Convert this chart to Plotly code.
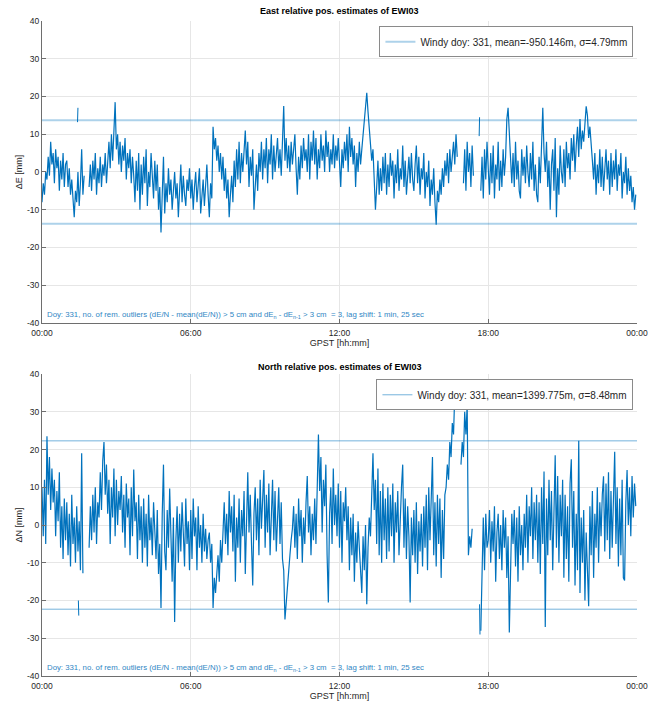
import pandas as pd
import plotly.graph_objects as go

# ---------------- data (3-min samples, mm) ----------------
east_mm = [
    -8, -3, -6, 0, -2, 4, -1, 8, 2, 5, -3, 6, 1, 4, -5, 3, -2, 5, -4, 2,                 # 00h
    3, -4, 1, -6, -2, -9, -12, -5, -8, 0, -9, -3, 6, -6, -1, None, None, None, -4, 2,     # 01h
    -5, 3, -2, 5, -6, 1, -3, 4, -4, 2, -1, 5, -3, 4, 8, 1, 10, 3, 9, 18.5,               # 02h
    6, 10, 2, 8, 0, 7, 3, 9, -2, 5, 1, 6, -3, 4, -1, -8, 3, -5, 5, -10,                  # 03h
    2, -6, 4, -3, 6, -9, 0, -4, 5, -2, -7, 3, -5, 2, -10, -4, -16, -6, 4, -11,           # 04h
    -3, -8, 1, -6, -2, -10, -4, 0, -7, -3, -12, -5, 2, -8, -1, -6, -9, -2, -5, 1,        # 05h
    -7, -2, -10, -4, 0, -8, -3, 1, -11, -5, -2, -9, -4, 2, -6, -12, -3, -7, 12, 6,       # 06h
    9, 3, 7, 0, 5, -2, 4, -5, 1, -7, -2, -12, -6, -1, -8, 3, -4, 6, -2, 8,               # 07h
    -3, 5, 0, 7, 11, 2, 8, -4, 4, -1, 6, -10, -3, 2, -5, 5, 0, 8, -2, 6,                 # 08h
    1, 9, -3, 6, 2, 10, -2, 7, 0, 4, 9, 1, 6, -1, 8, 17.5, 3, 9, 1, 7,                   # 09h
    0, 8, 2, 6, 10, 1, -6, 4, -2, 7, 1, 9, 3, 6, 0, 10, -2, 8, 3, 11,                    # 10h
    2, 9, -2, 6, 1, 10, 3, 7, 0, 11, 4, 8, 0, 6, 2, 10, 1, 7, 3, 9,                      # 11h
    2, -4, 6, 1, 8, 3, 10, 0, 12, 4, 9, 2, 7, -4, 5, 0, 8, 2, 6, 10,                     # 12h
    14, 18, 21, 16, 12, 7, 3, 6, -2, -10, -4, 3, -6, 1, -5, 4, -3, 5, -6, 2,             # 13h
    -4, 5, -1, 3, -7, 2, -3, 6, -5, 1, -2, 7, -4, 3, -6, 0, 4, -3, 5, -2,                # 14h
    -5, 2, 7, -3, 4, -6, 1, -2, 5, -7, 0, -4, 3, -9, -2, -6, 1, -8, -14, -5,             # 15h
    -8, -2, -6, 1, -4, 3, -1, 5, -3, 6, 0, 4, 8, 2, 10, 4, None, None, None, None,       # 16h
    -3, 6, -5, 8, 0, 5, -4, 7, -1, None, None, None, None, None, -5, 4, -7, 6, -2, 8,    # 17h
    1, -6, 5, -3, 7, -7, 2, -2, 8, -5, 3, -4, 6, -1, 4, 14, 17, 9, 3, -3,                # 18h
    5, -4, 8, -2, 3, -5, -7, 6, -1, 4, -3, 7, 0, -4, 5, -2, 8, -5, 2, -6,                # 19h
    -8, 4, -3, 6, 17, 5, 0, 8, -4, 3, -10, 2, 6, -5, 9, -12, 1, -6, 7, 0,                # 20h
    -3, 6, -4, 8, 1, 5, -2, 9, 3, 10, 0, 7, 12, 4, 14, 6, 11, 8, 13, 17.4,               # 21h
    15, 9, 12, 6, 3, -2, 5, -6, 2, -3, 6, -4, 4, -5, 1, 6, -2, 3, -6, 5,                 # 22h
    -4, 3, -2, 6, -5, 2, -1, 5, -7, 0, -3, 4, -6, 1, -5, -1, -8, -4, -10, -6,            # 23h
]
north_mm = [
    10, -3, 12, -5, 23.5, 8, 18, 4, 15, 6, 12, -3, 9, 1, 14, -6, 5, -9, 7, -4,           # 00h
    6, -8, 3, -11, 8, -5, 2, -10, 5, -7, 1, -12, 19, -12.8, None, None, None, None, -6, 5,  # 01h
    -4, 8, -2, 10, -5, 6, 2, 14, 4, 17, 22, 8, 16, 3, 12, -5, 10, 2, 15, -3,             # 02h
    12, 0, 9, 4, 13, -2, 8, -6, 11, 2, 7, -8, 10, -3, 14.7, 1, 6, -9, 8, -4,             # 03h
    5, -10, 7, -6, 3, -11, 8, -4, 2, -8, 6, -2, -9, 4, -13, -5, -22, 3, 16, -7,          # 04h
    -12, 4, -6, 9.7, -3, -15, 2, -25.7, -4, 5, -10, 3, -7, 6, -2, -11, 7, -5, 1, -12,    # 05h
    4, -9, 7, -3, 2, -12, 5, -6, 0, -10, 3, -7, -1, -9, -4, -2, -10, -5, -22, -14,       # 06h
    -18, -12, -8, -15, -4, -10, 0, 6, -5, 3, -8, 9, -2, 5, -7, 8, -15, 2, -6, 7,         # 07h
    -10, 4, -3, 9, -13, 6, 14, -2, 8, -5, -16, 3, 10, -4, 7, -8, 12, -1, 5, 14.6,        # 08h
    -6, 8, -2, 11, -8, 5, 12, -4, 9, -7, 3, 10, -5, 6, -9, -12, -25, -20, -16, -11,      # 09h
    -8, -4, -1, 5, -6, 3, -9, 7, -3, 4, -10, 2, -5, 6, 13, -2, 5, -8, 3, -4,             # 10h
    7, -5, 14, 24, 9, 18, -2, 12, 5, 16, -8, -20.5, 3, 10, -5, 15, 0, 8, -3, 11,         # 11h
    -6, 9, -10, 6, 1, 10, -4, 5, -12, 2, -8, 3, -15, -2, -10, 1, -6, -13, -18, -3,       # 12h
    -12, 0, -21, -6, 2, -3, 10, 19, 4, 12, -5, 15, -8, 9, -10, 11, -4, 7, -9, 10,        # 13h
    -7, 8, -3, 11, -10, 6, -2, 9, -8, 4, 10, 16, -6, 7, -9, 5, -3, -20.5, 2, -8,         # 14h
    4, -10, 6, -13, 1, -7, 3, -11, 5, -6, 8, -12, 10, -4, 7, 18, -8, 6, -11, 8,          # 15h
    -5, 7, -14, 4, -9, 8, 10, 16, 12, 22, 18, 27, 24, 35, None, None, None, None, 16, 22,  # 16h
    18, 30, 24, 32, -8, -3, -6, -1, None, None, None, None, None, None, -28, -8, 2, -12, 3, -6,  # 17h
    -4, 4, -10, 1, -7, 5, -15, -2, 3, -9, 0, -12, 4, -6, 2, -14, -3, -28.5, -8, 3,       # 18h
    -5, 4, -11, 2, -15, 5, -8, 0, -12, 3, -6, 8, -10, 5, -3, 10, -9, 6, -4, 8,           # 19h
    -10, 6, -13, 10, -5, 14.2, -27, 7, -8, 12, -4, 9, -12, 6, 18.5, -6, 13, -10, 8, -3,  # 20h
    12, -14, 8, -9, 5, -15, 11, 17.4, -6, 9, -16, 3, -12, 22.3, -18, 2, -10, 4, -20, -2,  # 21h
    -12, -21.5, 5, -8, 9, -14, 3, -6, 10, -10, 6, -3, 8, 12.9, -7, 11, -4, 14, -9, 9,    # 22h
    -6, 12, 19.4, -5, 10, -11, 7, -8, 12, -14, -14.7, 6, 14.6, 0, 10, -3, 13, 2, 11, 5,  # 23h
]
east_iso_time = ["2020-11-26 01:26", "2020-11-26 01:27", None,
                 "2020-11-26 17:38", "2020-11-26 17:39"]
east_iso_mm = [13.2, 17.0, None, 9.5, 14.5]
north_iso_time = ["2020-11-26 01:28", "2020-11-26 01:29", None,
                  "2020-11-26 17:39", "2020-11-26 17:40"]
north_iso_mm = [-20, -24, None, -21, -29]

east_limit = 13.7
north_limit = 22.3
day_start = "2020-11-26 00:00"
day_end = "2020-11-27 00:00"
x_tick_vals = ["2020-11-26 00:00", "2020-11-26 06:00", "2020-11-26 12:00",
               "2020-11-26 18:00", "2020-11-27 00:00"]
x_tick_text = ["00:00", "06:00", "12:00", "18:00", "00:00"]
y_tick_vals = [-40, -30, -20, -10, 0, 10, 20, 30, 40]
y_tick_text = ["-40", "-30", "-20", "-10", "0", "10", "20", "30", "40"]

east_legend = "Windy doy: 331, mean=-950.146m, σ=4.79mm"
north_legend = "Windy doy: 331, mean=1399.775m, σ=8.48mm"
note = ("Doy: 331, no. of rem. outliers (dE/N - mean(dE/N)) > 5 cm and "
        "dE<sub>n</sub> - dE<sub>n-1</sub> > 3 cm  = 3, lag shift: 1 min, 25 sec")

times = pd.date_range(day_start, periods=len(east_mm), freq="3min")

# ---------------- figure ----------------
BLUE = "#0072BD"
FONT = "Liberation Sans, Arial, sans-serif"
fig = go.Figure()

for (vals, iso_t, iso_v, lim, leg, xa, ya, lname, lcol, lw) in [
    (east_mm, east_iso_time, east_iso_mm, east_limit, east_legend, "x", "y",
     "legend", "rgba(0,114,189,0.32)", 2),
    (north_mm, north_iso_time, north_iso_mm, north_limit, north_legend, "x2", "y2",
     "legend2", "rgba(0,114,189,0.55)", 1),
]:
    fig.add_trace(go.Scatter(x=times, y=vals, mode="lines", xaxis=xa, yaxis=ya,
                             line=dict(color=BLUE, width=1.2), showlegend=False,
                             hoverinfo="skip"))
    fig.add_trace(go.Scatter(x=iso_t, y=iso_v, mode="lines", xaxis=xa, yaxis=ya,
                             line=dict(color=BLUE, width=1), showlegend=False,
                             hoverinfo="skip"))
    fig.add_trace(go.Scatter(x=[day_start, day_end, None, day_start, day_end],
                             y=[lim, lim, None, -lim, -lim], mode="lines",
                             xaxis=xa, yaxis=ya, name=leg, legend=lname,
                             line=dict(color=lcol, width=lw)))

axis_common = dict(showgrid=True, gridcolor="#e6e6e6", gridwidth=1,
                   showline=True, linecolor="#6e6e6e", linewidth=1,
                   ticks="inside", ticklen=4, tickcolor="#6e6e6e",
                   tickfont=dict(size=8.5, color="#262626", family=FONT),
                   zeroline=False)
xcommon = dict(axis_common, type="date", range=[day_start, day_end],
               tickvals=x_tick_vals, ticktext=x_tick_text, ticklabelstandoff=2,
               title=dict(text="GPST [hh:mm]", font=dict(size=9, color="#262626"),
                          standoff=1))
ycommon = dict(axis_common, range=[-40, 40], tickvals=y_tick_vals,
               ticktext=y_tick_text)

fig.update_layout(
    width=660, height=711,
    margin=dict(l=42, r=18, t=21, b=25),
    paper_bgcolor="white", plot_bgcolor="white",
    font=dict(family=FONT, color="#262626"),
    xaxis=dict(xcommon, domain=[0, 1], anchor="y"),
    yaxis=dict(ycommon, domain=[0.539, 1], anchor="x",
               title=dict(text="ΔE [mm]", font=dict(size=9), standoff=2)),
    xaxis2=dict(xcommon, domain=[0, 1], anchor="y2"),
    yaxis2=dict(ycommon, domain=[0, 0.461], anchor="x2",
                title=dict(text="ΔN [mm]", font=dict(size=9), standoff=2)),
    legend=dict(x=0.994, y=0.992, xanchor="right", yanchor="top",
                bgcolor="white", bordercolor="#8a8a8a", borderwidth=1,
                font=dict(size=10, color="#262626"), itemwidth=30),
    legend2=dict(x=0.994, y=0.453, xanchor="right", yanchor="top",
                 bgcolor="white", bordercolor="#8a8a8a", borderwidth=1,
                 font=dict(size=10, color="#262626"), itemwidth=30),
    annotations=[
        dict(text="<b>East relative pos. estimates of EWI03</b>", xref="paper",
             yref="paper", x=0.5, y=1.016, showarrow=False,
             font=dict(size=9, color="#000000"), yanchor="middle"),
        dict(text="<b>North relative pos. estimates of EWI03</b>", xref="paper",
             yref="paper", x=0.5, y=0.472, showarrow=False,
             font=dict(size=9, color="#000000"), yanchor="middle"),
        dict(text=note, xref="x domain", yref="y domain", x=0.005, y=0.028,
             xanchor="left", yanchor="middle", showarrow=False,
             font=dict(size=7.8, color="#2f86c4")),
        dict(text=note, xref="x2 domain", yref="y2 domain", x=0.005, y=0.028,
             xanchor="left", yanchor="middle", showarrow=False,
             font=dict(size=7.8, color="#2f86c4")),
    ],
)

fig.write_html("out.html")
